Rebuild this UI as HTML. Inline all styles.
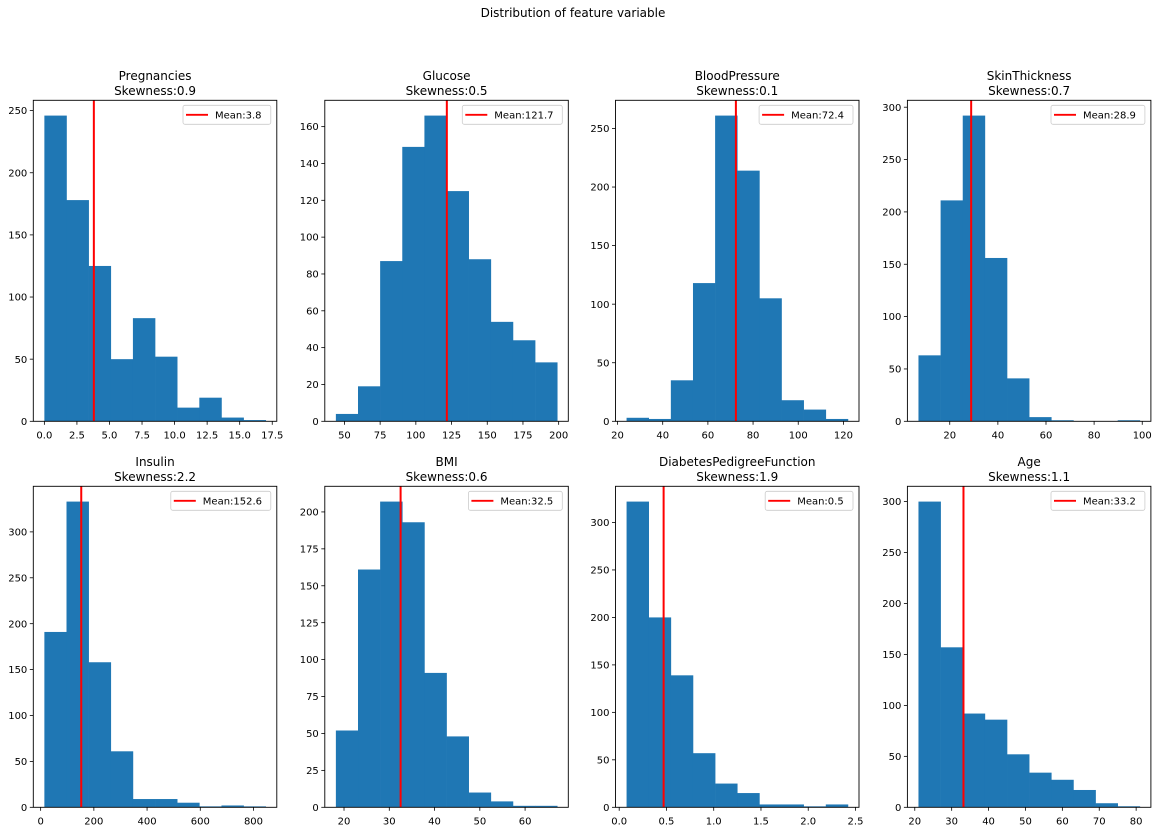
<!DOCTYPE html>
<html><head><meta charset="utf-8"><style>
html,body{margin:0;padding:0;background:#fff;}
svg{display:block;font-family:"DejaVu Sans","Liberation Sans",sans-serif;}
</style></head><body>
<svg id="fig" width="1157" height="831" viewBox="0 0 1157 831" xmlns="http://www.w3.org/2000/svg">
<rect width="1157" height="831" fill="#fff"/>
<text x="573" y="17" font-size="12" text-anchor="middle">Distribution of feature variable</text>
</svg>
<script>
const titles = ["Pregnancies","Glucose","BloodPressure","SkinThickness","Insulin","BMI","DiabetesPedigreeFunction","Age"];
const skews = ["0.9","0.5","0.1","0.7","2.2","0.6","1.9","1.1"];
const means = [3.8,121.7,72.4,28.9,152.6,32.5,0.47,33.2];
const meanLabels = ["3.8","121.7","72.4","28.9","152.6","32.5","0.5","33.2"];
const binMin = [0,44,24,7,14,18.2,0.078,21];
const binMax = [17,199,122,99,846,67.1,2.42,81];
const pregnanciesCounts = [246,178,125,50,83,52,11,19,3,1];
const glucoseCounts = [4,19,87,149,166,125,88,54,44,32];
const bloodPressureCounts = [3,2,35,118,261,214,105,18,10,2];
const skinThicknessCounts = [63,211,292,156,41,4,1,0,0,1];
const insulinCounts = [191,333,158,61,9,9,5,1,2,1];
const bmiCounts = [52,161,207,193,91,48,10,4,1,1];
const dpfCounts = [322,200,139,57,25,15,3,3,1,3];
const ageCounts = [300,157,92,86,52,34,27,17,4,1];
const allCounts = [pregnanciesCounts,glucoseCounts,bloodPressureCounts,skinThicknessCounts,insulinCounts,bmiCounts,dpfCounts,ageCounts];
const xTickVals = [[0,2.5,5,7.5,10,12.5,15,17.5],[50,75,100,125,150,175,200],[20,40,60,80,100,120],[20,40,60,80,100],[0,200,400,600,800],[20,30,40,50,60],[0,0.5,1,1.5,2,2.5],[20,30,40,50,60,70,80]];
const xTickLabels = [["0.0","2.5","5.0","7.5","10.0","12.5","15.0","17.5"],["50","75","100","125","150","175","200"],["20","40","60","80","100","120"],["20","40","60","80","100"],["0","200","400","600","800"],["20","30","40","50","60"],["0.0","0.5","1.0","1.5","2.0","2.5"],["20","30","40","50","60","70","80"]];
const yTickVals = [[0,50,100,150,200,250],[0,20,40,60,80,100,120,140,160],[0,50,100,150,200,250],[0,50,100,150,200,250,300],[0,50,100,150,200,250,300],[0,25,50,75,100,125,150,175,200],[0,50,100,150,200,250,300],[0,50,100,150,200,250,300]];

const NS = "http://www.w3.org/2000/svg";
const svg = document.getElementById('fig');
const colLeft = [33.3,324.8,615.5,907.4];
const axW = 243.5;
const rowTop = [100.3,486.3];
const axH = 321;
function mk(tag, attrs, parent){
  const e = document.createElementNS(NS, tag);
  for (const k in attrs) e.setAttribute(k, attrs[k]);
  (parent||svg).appendChild(e);
  return e;
}
for (let p = 0; p < 8; p++){
  const L = colLeft[p%4], T = rowTop[Math.floor(p/4)], B = T + axH, R = L + axW;
  const g = mk('g', {});
  
  
  const counts = allCounts[p];
  const lo = binMin[p], hi = binMax[p];
  const pad = (hi - lo) * 0.05;
  const x0 = lo - pad, x1 = hi + pad;
  const ymax = Math.max(...counts) * 1.05;
  const sx = v => L + (v - x0) / (x1 - x0) * axW;
  const sy = v => B - v / ymax * axH;
  const bw = (hi - lo) / counts.length;
  counts.forEach((c, i) => {
    if (c <= 0) return;
    const xa = sx(lo + i*bw), xb = sx(lo + (i+1)*bw);
    const r = mk('rect', {x: xa, y: sy(c), width: xb - xa + 0.3, height: B - sy(c), fill: '#1f77b4'}, g);
    
    
  });
  const ml = mk('line', {x1: sx(means[p]), x2: sx(means[p]), y1: T, y2: B, stroke: '#ff0000', 'stroke-width': 2}, g);
  
  
  const frame = mk('rect', {x: L, y: T, width: axW, height: axH, fill: 'none', stroke: '#000', 'stroke-width': 0.9}, g);
  
  
  xTickVals[p].forEach((v, i) => {
    const x = sx(v);
    mk('line', {x1: x, x2: x, y1: B, y2: B + 3.5, stroke: '#000', 'stroke-width': 0.8}, g);
    const t = mk('text', {x: x, y: B + 17, 'font-size': 10, 'text-anchor': 'middle', fill: '#000'}, g);
    t.textContent = xTickLabels[p][i];
    
    
  });
  yTickVals[p].forEach(v => {
    const y = sy(v);
    mk('line', {x1: L - 3.5, x2: L, y1: y, y2: y, stroke: '#000', 'stroke-width': 0.8}, g);
    const t = mk('text', {x: L - 6, y: y + 3.6, 'font-size': 10, 'text-anchor': 'end', fill: '#000'}, g);
    t.textContent = String(v);
    
    
  });
  const cx = L + axW/2;
  const t1 = mk('text', {x: cx, y: T - 20.5, 'font-size': 12, 'text-anchor': 'middle'}, g);
  t1.textContent = titles[p];
  
  
  const t2 = mk('text', {x: cx, y: T - 5.5, 'font-size': 12, 'text-anchor': 'middle'}, g);
  t2.textContent = 'Skewness:' + skews[p];
  
  
  // legend
  const label = 'Mean:' + meanLabels[p];
  const tw = label.length * 6.1;
  const lw = 7 + 20 + 7 + tw + 5;
  const lx = R - 6 - lw, ly = T + 5;
  const lg = mk('g', {}, g);
  
  
  mk('rect', {x: lx, y: ly, width: lw, height: 19, rx: 2, fill: '#fff', 'fill-opacity': 0.8, stroke: '#ccc', 'stroke-width': 0.8}, lg);
  mk('line', {x1: lx + 3, x2: lx + 25, y1: ly + 9.5, y2: ly + 9.5, stroke: '#ff0000', 'stroke-width': 1.8}, lg);
  const lt = mk('text', {x: lx + 32, y: ly + 13.3, 'font-size': 10}, lg);
  lt.textContent = label;
  
  
}
</script>
</body></html>
